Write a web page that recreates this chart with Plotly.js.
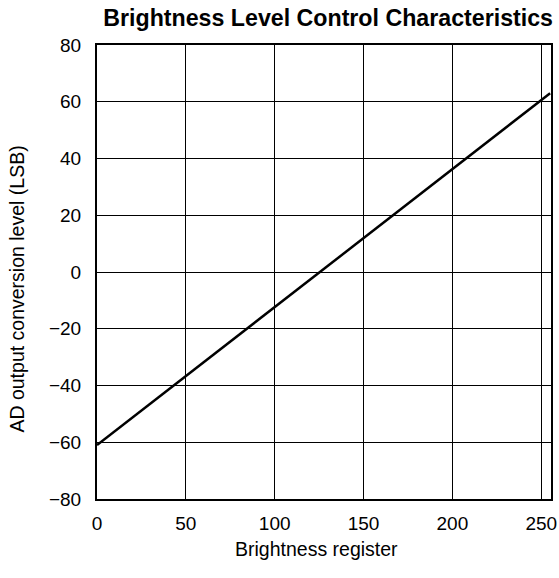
<!DOCTYPE html>
<html>
<head>
<meta charset="utf-8">
<script src="https://cdn.plot.ly/plotly-3.0.1.min.js"></script>
<style>html,body{margin:0;padding:0;background:#fff;}#chart{width:559px;height:578px;}</style>
</head>
<body>
<div id="chart"></div>
<script>
var registerValues = [0, 255];
var outputLevels = [-61, 63];
var xTicks = [0, 50, 100, 150, 200, 250];
var yTicks = [-80, -60, -40, -20, 0, 20, 40, 60, 80];
var yTickLabels = ['\u221280', '\u221260', '\u221240', '\u221220', '0', '20', '40', '60', '80'];
var xTitle = 'Brightness register';
var yTitle = 'AD output conversion level (LSB)';

var font = 'Liberation Sans, Arial, sans-serif';
Plotly.newPlot('chart', [{
  x: registerValues,
  y: outputLevels,
  mode: 'lines',
  line: {color: '#000', width: 2.5},
  hoverinfo: 'skip'
}], {
  width: 559, height: 578,
  margin: {l: 97, r: 8, t: 45, b: 79},
  paper_bgcolor: '#fff', plot_bgcolor: '#fff',
  showlegend: false,
  title: {text: '<b>Brightness Level Control Characteristics</b>', font: {family: font, size: 23.2, color: '#000'},
          x: 0.587, xref: 'container', xanchor: 'center', y: 0.969, yref: 'container', yanchor: 'middle'},
  xaxis: {
    range: [0, 255.5], tickvals: xTicks, ticktext: xTicks.map(String),
    showgrid: true, gridcolor: '#000', gridwidth: 1,
    showline: true, linecolor: '#000', linewidth: 2, mirror: true,
    ticks: '', zeroline: false, ticklabelstandoff: 6,
    tickfont: {family: font, size: 19, color: '#000'}
  },
  yaxis: {
    range: [-80, 80], tickvals: yTicks, ticktext: yTickLabels,
    showgrid: true, gridcolor: '#000', gridwidth: 1,
    showline: true, linecolor: '#000', linewidth: 2, mirror: true,
    ticks: '', zeroline: false, ticklabelstandoff: 10,
    tickfont: {family: font, size: 19, color: '#000'}
  },
  annotations: [
    {text: xTitle, xref: 'paper', yref: 'paper', x: 0.4835, y: -0.110, xanchor: 'center', yanchor: 'middle',
     showarrow: false, font: {family: font, size: 19.5, color: '#000'}},
    {text: yTitle, xref: 'paper', yref: 'paper', x: -0.176, y: 0.4615, xanchor: 'center', yanchor: 'middle',
     textangle: -90, showarrow: false, font: {family: font, size: 19.5, color: '#000'}}
  ]
}, {displayModeBar: false, staticPlot: true});
</script>
</body>
</html>
